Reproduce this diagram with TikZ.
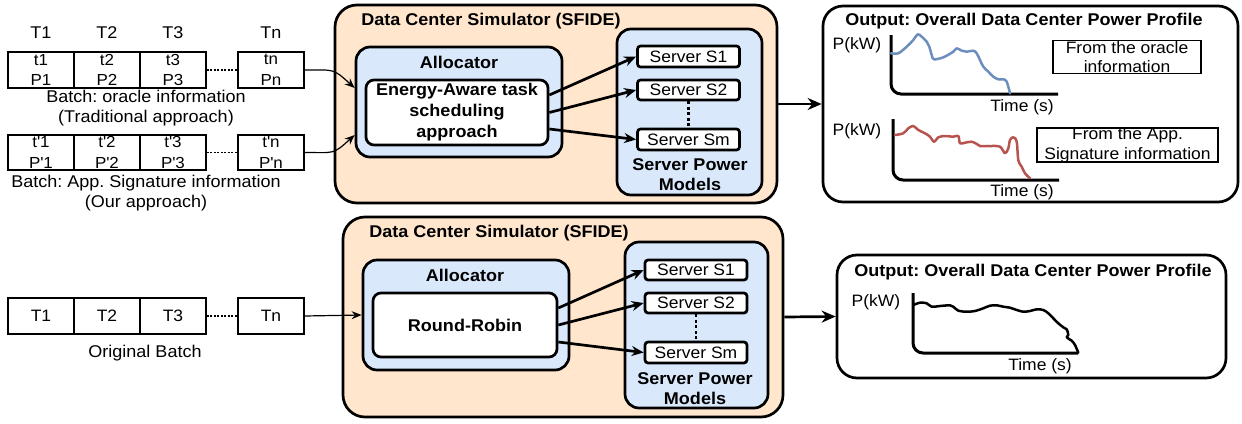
\documentclass[tikz,border=0pt]{standalone}
\usepackage{fontspec}
\setmainfont{Liberation Sans}[FakeStretch=1.06]
\usetikzlibrary{arrows.meta,calc}
\definecolor{orangefill}{HTML}{FFE6CC}
\definecolor{bluefill}{HTML}{DAE8FC}
\definecolor{curveblue}{HTML}{6C8EBF}
\definecolor{curvered}{HTML}{B85450}
\frenchspacing
\newcommand{\sq}{\textquotesingle}
\begin{document}
\begin{tikzpicture}[x=1pt,y=-1pt,
  sim/.style={draw, line width=2.7pt, fill=orangefill, rounded corners=22pt, inner sep=0pt},
  allocbox/.style={draw, line width=2.7pt, fill=bluefill, rounded corners=14pt, inner sep=0pt},
  innerbox/.style={draw, line width=2.7pt, fill=white, rounded corners=8pt, inner sep=0pt, align=center,
    font=\fontsize{17}{21}\selectfont\bfseries},
  srv/.style={draw, line width=2.7pt, fill=white, rounded corners=3pt, inner sep=0pt,
    minimum width=102pt, font=\fontsize{16.5}{20}\selectfont},
  outbox/.style={draw, line width=2.7pt, rounded corners=20pt, inner sep=0pt},
  task/.style={draw, line width=1.2pt, minimum width=66pt, inner sep=0pt, align=center,
    font=\fontsize{16}{20.5}\selectfont},
  title/.style={font=\fontsize{17}{20}\selectfont\bfseries, inner sep=0pt, align=center},
  lbl/.style={font=\fontsize{17}{20}\selectfont, inner sep=0pt, align=center},
  clbl/.style={font=\fontsize{16.5}{19.5}\selectfont, inner sep=0pt, align=center},
  thickarrow/.style={line width=2.7pt, -{Stealth[length=14pt,width=12pt]}},
  srvarrow/.style={line width=2.7pt, -{Stealth[length=12pt,width=10pt]}},
  thinarrow/.style={line width=1.2pt, -{Stealth[length=10pt,width=8pt]}},
  gap/.style={line width=1.2pt, dash pattern=on 2pt off 1.5pt},
  vdots/.style={line width=2.7pt, dash pattern=on 3pt off 2.5pt},
  axis/.style={line width=3pt, rounded corners=10pt},
  curve/.style={line width=2.5pt, line join=round, line cap=round},
  labelrect/.style={line width=1.3pt}
]
\useasboundingbox (0,0) rectangle (1242,423);

% ---------------- top: batches ----------------
\foreach \n/\x in {T1/41,T2/107,T3/173,Tn/271}{
  \node[lbl] (h\n) at (\x,33) {\n};
}
\node[task, minimum height=36pt] (ta1) at (41,70) {t1\\P1};
\node[task, minimum height=36pt] (ta2) at (107,70) {t2\\P2};
\node[task, minimum height=36pt] (ta3) at (173,70) {t3\\P3};
\node[task, minimum height=36pt] (tan) at (271,70) {tn\\Pn};
\draw[gap] (ta3.east) -- (tan.west);
\node[lbl] (lbla) at (146,108) {Batch: oracle information\\(Traditional approach)};

\node[task, minimum height=35pt] (tb1) at (41,152.5) {t\sq1\\P\sq1};
\node[task, minimum height=35pt] (tb2) at (107,152.5) {t\sq2\\P\sq2};
\node[task, minimum height=35pt] (tb3) at (173,152.5) {t\sq3\\P\sq3};
\node[task, minimum height=35pt] (tbn) at (271,152.5) {t\sq n\\P\sq n};
\draw[gap] (tb3.east) -- (tbn.west);
\node[lbl] (lblb) at (146,193) {Batch: App. Signature information\\(Our approach)};

% ---------------- top: simulator ----------------
\node[sim, minimum width=442pt, minimum height=198pt] (sim1) at (556,104) {};
\node[title] (sim1t) at (491,21) {Data Center Simulator (SFIDE)};
\node[allocbox, minimum width=206pt, minimum height=110pt] (al1) at (459,102) {};
\node[title] (al1t) at (459,62) {Allocator};
\node[innerbox, minimum width=182pt, minimum height=65pt] (ea) at (457,112.5)
  {Energy-Aware task\\scheduling\\approach};
\node[allocbox, minimum width=145pt, minimum height=166pt] (spm1) at (689.5,112) {};
\node[title] (spm1t) at (690,175) {Server Power\\Models};
\node[srv, minimum height=21pt] (s11) at (688.5,56.5) {Server S1};
\node[srv, minimum height=20pt] (s12) at (688.5,90) {Server S2};
\node[srv, minimum height=21pt] (s1m) at (688.5,139.5) {Server Sm};
\draw[vdots] (s12.south) -- (s1m.north);
\draw[srvarrow] ([yshift=17.5pt]ea.east) -- (s11.west);
\draw[srvarrow] (ea.east) -- (s12.west);
\draw[srvarrow] ([yshift=-16.5pt]ea.east) -- (s1m.west);

\draw[thinarrow] (tan.east) .. controls +(30,0) and +(-22,-20) .. ([yshift=14pt]al1.west);
\draw[thinarrow] (tbn.east) .. controls +(30,0) and +(-22,20) .. ([yshift=-33pt]al1.west);

% ---------------- top: output ----------------
\node[outbox, minimum width=415pt, minimum height=196pt] (out1) at (1030.5,104) {};
\draw[thickarrow] (sim1.east) -- (out1.west);
\node[title] (out1t) at (1024,21) {Output: Overall Data Center Power Profile};
\draw[axis] (891,35) -- (891,94) -- (1058,94);
\node[clbl] (p1) at (857,45) {P(kW)};
\node[clbl] (ts1) at (1022,107) {Time (s)};
\draw[curve, curveblue] plot[smooth, tension=0.55] coordinates {
(891,53.3) (898.3,53.3) (906.7,46.7) (913.3,40) (917.7,34.3) (921.7,36.7) (926.7,41.7)
(929.3,46.7) (931.7,55) (934,59.3) (943.3,57.3) (953.3,51.7) (956.7,48.3) (961.7,50.7)
(966.7,51.7) (973.3,50.7) (976.7,53.3) (980,60) (983.3,66.7) (988.3,71.7) (993.3,76.7)
(998.3,79.3) (1003.3,79.3) (1006.7,81.7) (1010,93.3)};
\node[clbl] (or) at (1127,57) {From the oracle\\information};
\draw[labelrect] ($(or.center)+(-74,-16.5)$) rectangle ($(or.center)+(74,16.5)$);

\draw[axis] (893,119) -- (893,180) -- (1059,180);
\node[clbl] (p2) at (857,131) {P(kW)};
\node[clbl] (ts2) at (1022,192) {Time (s)};
\draw[curve, curvered] plot[smooth, tension=0.55] coordinates {
(895,135) (903.3,133.3) (908.3,128.3) (913.3,126) (918.3,130) (925,133.3) (930,136.7)
(934,141.7) (938.3,137.3) (945,136) (953.3,136.7) (958.3,136) (960,143.3) (965,142.7)
(971.7,141.7) (976.7,144) (980,146) (990,146) (1000,146.7) (1005,153.3) (1008.3,148.3)
(1010,140) (1013.3,137.3) (1016.7,141.7) (1018.3,160) (1021.7,166.7) (1025,173.3) (1030,178.3)};
\node[clbl] (ap) at (1127.5,145) {From the App.\\Signature information};
\draw[labelrect] ($(ap.center)+(-90.5,-17)$) rectangle ($(ap.center)+(90.5,17)$);

% ---------------- bottom ----------------
\node[task, minimum height=36pt, font=\fontsize{16.5}{20}\selectfont] (tc1) at (41,316) {T1};
\node[task, minimum height=36pt, font=\fontsize{16.5}{20}\selectfont] (tc2) at (107,316) {T2};
\node[task, minimum height=36pt, font=\fontsize{16.5}{20}\selectfont] (tc3) at (173,316) {T3};
\node[task, minimum height=36pt, font=\fontsize{16.5}{20}\selectfont] (tcn) at (271,316) {Tn};
\draw[gap] (tc3.east) -- (tcn.west);
\node[lbl] (lblc) at (145,353) {Original Batch};

\node[sim, minimum width=440pt, minimum height=200pt] (sim2) at (563,317) {};
\node[title] (sim2t) at (499,233) {Data Center Simulator (SFIDE)};
\node[allocbox, minimum width=206pt, minimum height=110pt] (al2) at (466,315) {};
\node[title] (al2t) at (465,275) {Allocator};
\node[innerbox, minimum width=184pt, minimum height=64pt] (rr) at (465,325) {Round-Robin};
\node[allocbox, minimum width=143pt, minimum height=166pt] (spm2) at (696.5,325) {};
\node[title] (spm2t) at (695,389) {Server Power\\Models};
\node[srv, minimum height=20pt] (s21) at (696,270) {Server S1};
\node[srv, minimum height=20pt] (s22) at (696,303) {Server S2};
\node[srv, minimum height=21pt] (s2m) at (696,352.5) {Server Sm};
\draw[vdots] (s22.south) -- (s2m.north);
\draw[srvarrow] ([yshift=17pt]rr.east) -- (s21.west);
\draw[srvarrow] (rr.east) -- (s22.west);
\draw[srvarrow] ([yshift=-17pt]rr.east) -- (s2m.west);
\draw[thinarrow] (tcn.east) -- (al2.west);

\node[outbox, minimum width=389pt, minimum height=123pt] (out2) at (1031.5,316.5) {};
\draw[thickarrow] (sim2.east) -- (out2.west);
\node[title] (out2t) at (1033,272) {Output: Overall Data Center Power Profile};
\draw[axis] (913,293) -- (913,353) -- (1078,353);
\node[clbl] (p3) at (876,302) {P(kW)};
\node[clbl] (ts3) at (1040,366) {Time (s)};
\draw[curve, black] plot[smooth, tension=0.55] coordinates {
(913.3,305) (920,302.7) (926.7,303.3) (931.7,306.7) (940,306) (950,305.3) (953.3,306.7)
(958.3,310.7) (966.7,311.7) (975,311) (983.3,308.3) (990,305.7) (996.7,305.3) (1003.3,306.7)
(1010,307.7) (1016.7,310) (1023.3,311.7) (1030,311) (1036.7,309.3) (1043.3,310) (1048.3,313.3)
(1053.3,318.3) (1058.3,323.3) (1063.3,327.3) (1066.7,329.3) (1068.3,335) (1066.7,337.3)
(1071.7,340.7) (1075,345) (1078.3,352.7)};
\end{tikzpicture}
\end{document}
